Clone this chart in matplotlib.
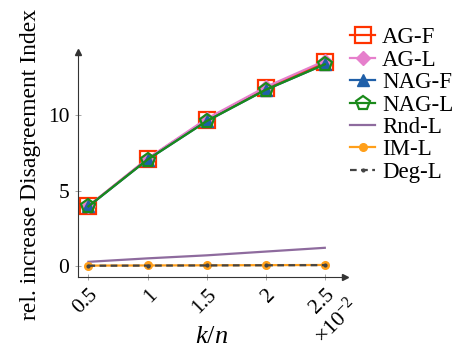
import matplotlib
matplotlib.use('Agg')
import matplotlib.pyplot as plt

plt.rcParams['font.family'] = ['Liberation Serif', 'DejaVu Serif']
plt.rcParams['mathtext.fontset'] = 'custom'
plt.rcParams['mathtext.it'] = 'Liberation Serif:italic'
plt.rcParams['mathtext.rm'] = 'Liberation Serif'

k_over_n = [0.5, 1.0, 1.5, 2.0, 2.5]
x_ticklabels = ['0.5', '1', '1.5', '2', '2.5']

ag_f = [3.97, 7.10, 9.70, 11.80, 13.50]
ag_l = [3.97, 7.12, 9.76, 11.87, 13.60]
nag_f = [3.95, 7.05, 9.60, 11.68, 13.37]
nag_l = [3.95, 7.05, 9.60, 11.68, 13.37]
rnd_l = [0.27, 0.50, 0.70, 0.95, 1.20]
im_l = [0.02, 0.03, 0.04, 0.05, 0.06]
deg_l = [0.01, 0.02, 0.03, 0.04, 0.05]

fig = plt.figure(figsize=(4.55, 3.55), dpi=100)
ax = fig.add_axes([0.171, 0.22, 0.587, 0.634])

ax.plot(k_over_n, ag_f, color='#ff3300', marker='s', markersize=11,
        markerfacecolor='none', markeredgewidth=1.6, linewidth=1.6, label='AG-F')
ax.plot(k_over_n, ag_l, color='#e67fcc', marker='D', markersize=7.5,
        linewidth=1.6, label='AG-L')
ax.plot(k_over_n, nag_f, color='#1f5fa8', marker='^', markersize=8.5,
        linewidth=1.6, label='NAG-F')
ax.plot(k_over_n, nag_l, color='#1a8a1a', marker='p', markersize=10,
        markerfacecolor='none', markeredgewidth=1.6, linewidth=1.6, label='NAG-L')
ax.plot(k_over_n, rnd_l, color='#8e6b9e', linewidth=1.6, label='Rnd-L')
ax.plot(k_over_n, im_l, color='#ff9f1a', marker='o', markersize=5.5,
        linewidth=1.6, label='IM-L')
ax.plot(k_over_n, deg_l, color='#444444', marker='.', markersize=4,
        linewidth=1.6, linestyle=(0, (3, 2)), label='Deg-L')

ax.set_xlim(0.41, 2.67)
ax.set_ylim(-0.73, 14.2)
ax.set_xticks(k_over_n)
ax.set_xticklabels(x_ticklabels, rotation=45, ha='right', va='top',
                   rotation_mode='anchor')
ax.set_yticks([0, 5, 10])
ax.tick_params(labelsize=15.5, direction='inout', length=5, width=0.6,
               color='#999999')
for s in ['top', 'right']:
    ax.spines[s].set_visible(False)
for s in ['left', 'bottom']:
    ax.spines[s].set_linewidth(0.8)
    ax.spines[s].set_color('#333333')
ax.plot(1, 0, '>', color='#333333', markersize=4, transform=ax.transAxes,
        clip_on=False)
ax.plot(0, 1, '^', color='#333333', markersize=4, transform=ax.transAxes,
        clip_on=False)

ax.set_xlabel('$k/n$', fontsize=19, labelpad=6)
ax.set_ylabel('rel. increase Disagreement Index', fontsize=17, labelpad=5)
ax.text(2.6, -3.7, r'$\times10^{-2}$', fontsize=16, rotation=45,
        ha='center', va='center')

ax.legend(loc='upper left', bbox_to_anchor=(0.985, 1.15), frameon=False,
          fontsize=16.5, handlelength=1.1, handletextpad=0.3,
          labelspacing=0.06, borderaxespad=0.0)

fig.savefig('out.png', dpi=100)
